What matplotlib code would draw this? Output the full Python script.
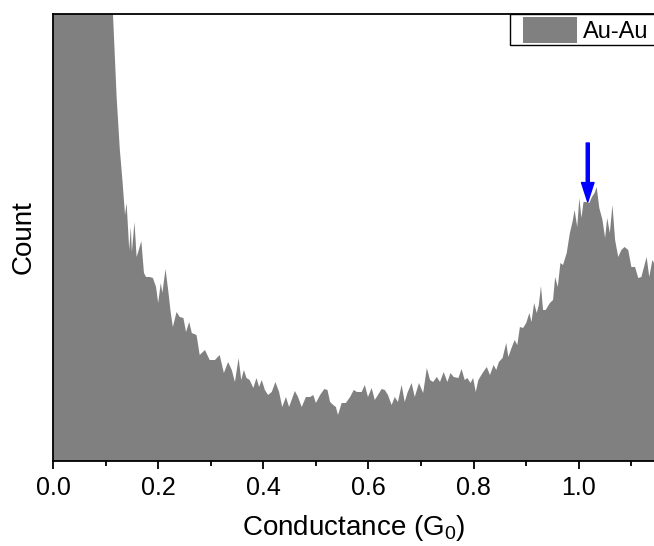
import matplotlib
matplotlib.use("Agg")
import matplotlib.pyplot as plt
from matplotlib.patches import Rectangle
from matplotlib.ticker import MultipleLocator

plt.rcParams["font.family"] = ["Liberation Sans", "DejaVu Sans"]
plt.rcParams["mathtext.fontset"] = "custom"
plt.rcParams["mathtext.rm"] = "Liberation Sans"

# conductance histogram, Au-Au junction
conductance = [
    0.000, 0.060, 0.105, 0.114, 0.121, 0.127, 0.132, 0.137, 0.140, 0.145,
    0.148, 0.150, 0.155, 0.159, 0.162, 0.168, 0.173, 0.177, 0.184, 0.190,
    0.196, 0.200, 0.205, 0.208, 0.214, 0.219, 0.224, 0.228, 0.235, 0.241,
    0.248, 0.253, 0.259, 0.264, 0.273, 0.279, 0.289, 0.298, 0.308, 0.317,
    0.325, 0.333, 0.340, 0.346, 0.353, 0.358, 0.363, 0.368, 0.374, 0.381,
    0.387, 0.392, 0.397, 0.403, 0.409, 0.416, 0.423, 0.430, 0.436, 0.443,
    0.449, 0.460, 0.466, 0.473, 0.481, 0.489, 0.495, 0.500, 0.508, 0.516,
    0.522, 0.527, 0.533, 0.538, 0.542, 0.549, 0.557, 0.565, 0.572, 0.578,
    0.587, 0.593, 0.599, 0.606, 0.612, 0.618, 0.625, 0.631, 0.637, 0.644,
    0.650, 0.656, 0.663, 0.669, 0.674, 0.682, 0.688, 0.696, 0.704, 0.711,
    0.717, 0.723, 0.730, 0.736, 0.743, 0.750, 0.756, 0.762, 0.771, 0.777,
    0.783, 0.788, 0.794, 0.799, 0.804, 0.809, 0.817, 0.825, 0.831, 0.838,
    0.843, 0.848, 0.855, 0.862, 0.866, 0.872, 0.878, 0.883, 0.888, 0.894,
    0.900, 0.906, 0.910, 0.915, 0.920, 0.924, 0.928, 0.932, 0.937, 0.945,
    0.951, 0.955, 0.960, 0.965, 0.970, 0.977, 0.983, 0.988, 0.992, 0.997,
    1.001, 1.005, 1.009, 1.014, 1.020, 1.025, 1.030, 1.034, 1.039, 1.045,
    1.050, 1.054, 1.059, 1.064, 1.069, 1.075, 1.081, 1.087, 1.094, 1.100,
    1.107, 1.113, 1.119, 1.124, 1.129, 1.134, 1.140, 1.145,
]
counts = [
    6000, 8000, 3500, 2240, 1820, 1560, 1405, 1230, 1290, 1055,
    1170, 1045, 1195, 1020, 1045, 1100, 940, 920, 920, 915,
    870, 790, 890, 840, 960, 855, 740, 670, 745, 720,
    715, 645, 695, 640, 630, 530, 555, 505, 505, 530,
    440, 495, 455, 395, 515, 405, 455, 415, 405, 365,
    415, 370, 405, 355, 330, 345, 395, 345, 270, 320,
    270, 350, 320, 270, 320, 320, 330, 290, 330, 360,
    355, 295, 280, 270, 230, 290, 290, 320, 355, 345,
    345, 380, 320, 365, 305, 330, 360, 355, 330, 280,
    320, 295, 380, 295, 340, 390, 320, 390, 340, 465,
    405, 395, 420, 395, 445, 395, 440, 420, 415, 460,
    405, 415, 390, 415, 345, 405, 440, 470, 430, 480,
    455, 495, 515, 590, 520, 565, 605, 580, 670, 665,
    690, 740, 695, 790, 740, 780, 875, 755, 755, 790,
    805, 920, 870, 990, 980, 1040, 1140, 1195, 1255, 1170,
    1315, 1215, 1295, 1295, 1290, 1320, 1340, 1370, 1265, 1205,
    1115, 1215, 1140, 1280, 1105, 1020, 1055, 1070, 1055, 970,
    970, 915, 920, 970, 1020, 920, 1005, 980,
]
peak_g = 1.017
arrow_tail, arrow_tip = 1590, 1295
legend_label = "Au-Au"

fig = plt.figure(figsize=(6.54, 5.46), dpi=100)
ax = fig.add_axes([53 / 654, 85 / 546, 601 / 654, 447 / 546])

ax.fill_between(conductance, counts, 0, color="#808080", lw=0)
ax.set_xlim(0, 1.143)
ax.set_ylim(0, 2235)

ax.annotate("", xy=(peak_g, arrow_tip), xytext=(peak_g, arrow_tail),
            arrowprops=dict(facecolor="#0000ff", edgecolor="#0000ff",
                            width=2.2, headwidth=9, headlength=14, shrink=0))

ax.xaxis.set_major_locator(MultipleLocator(0.2))
ax.xaxis.set_minor_locator(MultipleLocator(0.1))
ax.set_xticks([0.0, 0.2, 0.4, 0.6, 0.8, 1.0])
ax.set_xticklabels(["0.0", "0.2", "0.4", "0.6", "0.8", "1.0"])
ax.set_yticks([])
ax.tick_params(axis="x", which="major", direction="out", length=6, width=1.3,
               labelsize=18, pad=5)
ax.tick_params(axis="x", which="minor", direction="out", length=3.5, width=1.3)
for s in ax.spines.values():
    s.set_linewidth(1.3)
ax.spines["right"].set_visible(False)

ax.set_xlabel(r"Conductance (G$_\mathregular{0}$)", fontsize=20, labelpad=9)
ax.set_ylabel("Count", fontsize=20, labelpad=12)

# legend box (Origin style, runs off the right edge)
ax.add_patch(Rectangle((0.7604, 0.9306), 0.3, 0.0694, transform=ax.transAxes,
                       fc="white", ec="black", lw=1.0, clip_on=False, zorder=5))
ax.add_patch(Rectangle((0.7825, 0.9351), 0.0894, 0.0582, transform=ax.transAxes,
                       fc="#808080", ec="none", clip_on=False, zorder=6))
ax.text(0.8819, 0.9600, legend_label, transform=ax.transAxes, fontsize=17,
        va="center", ha="left", zorder=7)

fig.savefig("out.png", dpi=100)
